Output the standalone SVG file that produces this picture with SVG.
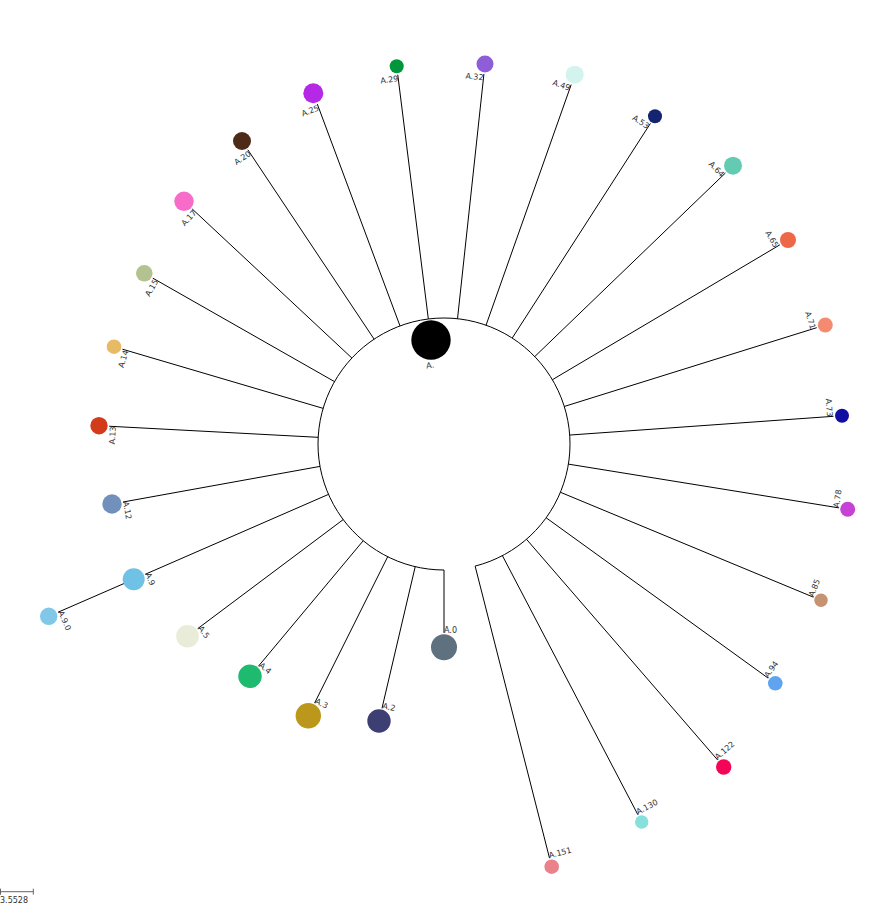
<svg xmlns="http://www.w3.org/2000/svg" width="888" height="921" viewBox="0 0 888 921">
<style>
  .link { stroke: #000; stroke-width: 1; fill: none; }
  .lbl { font-family: "DejaVu Sans", sans-serif; font-size: 8px; fill: #333; }
  .out { text-anchor: end; }
  .in { text-anchor: start; }
</style>
<rect width="888" height="921" fill="#fff"/>
<g id="connectors">
  <path class="link" d="M444,570 A126,126 0 1 1 475.11,566.1"/>
  <line class="link" x1="428.34" y1="318.98" x2="397.76" y2="74.73"/>
  <line class="link" x1="457.52" y1="318.73" x2="483.93" y2="73.94"/>
  <line class="link" x1="486.04" y1="325.22" x2="571.2" y2="84.6"/>
  <line class="link" x1="512.22" y1="338.06" x2="650.4" y2="123.45"/>
  <line class="link" x1="534.76" y1="356.59" x2="725.44" y2="172.98"/>
  <line class="link" x1="552.37" y1="379.73" x2="779.83" y2="244.85"/>
  <line class="link" x1="564.28" y1="406.46" x2="816.71" y2="327.68"/>
  <line class="link" x1="569.68" y1="435.06" x2="833.52" y2="416.3"/>
  <line class="link" x1="568.39" y1="464.12" x2="838.82" y2="507.86"/>
  <line class="link" x1="560.4" y1="492.26" x2="813.42" y2="597.16"/>
  <line class="link" x1="546.14" y1="517.77" x2="768.17" y2="678.15"/>
  <line class="link" x1="526.48" y1="539.26" x2="717.68" y2="760.04"/>
  <line class="link" x1="502.4" y1="555.65" x2="637.9" y2="814.73"/>
  <line class="link" x1="475.11" y1="566.1" x2="549.53" y2="858.17"/>
  <line class="link" x1="444" y1="570" x2="444" y2="632.8"/>
  <line class="link" x1="415.21" y1="566.67" x2="382.02" y2="708.15"/>
  <line class="link" x1="387.7" y1="556.72" x2="314.64" y2="703.0"/>
  <line class="link" x1="363.23" y1="540.71" x2="258.46" y2="666.17"/>
  <line class="link" x1="343.19" y1="519.59" x2="197.74" y2="628.62"/>
  <line class="link" x1="328.5" y1="494.36" x2="145.16" y2="574.3"/>
  <line class="link" x1="133.7" y1="579.3" x2="58.05" y2="612.22"/>
  <line class="link" x1="320.0" y1="466.4" x2="123.02" y2="502.01"/>
  <line class="link" x1="318.18" y1="437.32" x2="109.19" y2="426.24"/>
  <line class="link" x1="323.14" y1="408.37" x2="122.44" y2="349.19"/>
  <line class="link" x1="334.52" y1="381.64" x2="152.82" y2="278.15"/>
  <line class="link" x1="351.89" y1="358.02" x2="192.19" y2="208.94"/>
  <line class="link" x1="374.11" y1="339.16" x2="247.82" y2="149.74"/>
  <line class="link" x1="400.0" y1="325.93" x2="317.32" y2="104.08"/>
</g>
<g id="node-A"><circle cx="431" cy="340" r="19.7" fill="#000"/><text class="lbl out" dy="6.5" transform="translate(433.6,361.0) rotate(-7.1)">A.</text></g>
<g id="node-A29"><circle cx="396.7" cy="66.3" r="7" fill="#00963a"/><text class="lbl out" dy="6.5" transform="translate(397.8,74.7) rotate(-7.1)">A.29</text></g>
<g id="node-A32"><circle cx="485" cy="64" r="8.5" fill="#8e5ed8"/><text class="lbl out" dy="6.5" transform="translate(483.9,73.9) rotate(6.2)">A.32</text></g>
<g id="node-A49"><circle cx="574.7" cy="74.7" r="9" fill="#d2f3ee"/><text class="lbl out" dy="6.5" transform="translate(571.2,84.6) rotate(19.5)">A.49</text></g>
<g id="node-A53"><circle cx="655" cy="116.3" r="7" fill="#142470"/><text class="lbl out" dy="6.5" transform="translate(650.4,123.5) rotate(32.8)">A.53</text></g>
<g id="node-A64"><circle cx="733" cy="165.7" r="9" fill="#63cbb1"/><text class="lbl out" dy="6.5" transform="translate(725.4,173.0) rotate(46.1)">A.64</text></g>
<g id="node-A65"><circle cx="788" cy="240" r="8" fill="#ee6848"/><text class="lbl out" dy="6.5" transform="translate(779.8,244.9) rotate(59.3)">A.65</text></g>
<g id="node-A71"><circle cx="825.3" cy="325" r="7.5" fill="#f48a6f"/><text class="lbl out" dy="6.5" transform="translate(816.7,327.7) rotate(72.7)">A.71</text></g>
<g id="node-A73"><circle cx="842" cy="415.7" r="7" fill="#110fa3"/><text class="lbl out" dy="6.5" transform="translate(833.5,416.3) rotate(85.9)">A.73</text></g>
<g id="node-A78"><circle cx="847.7" cy="509.3" r="7.5" fill="#c642d4"/><text class="lbl in" transform="translate(838.8,507.9) rotate(-80.8)">A.78</text></g>
<g id="node-A85"><circle cx="821" cy="600.3" r="6.7" fill="#c69372"/><text class="lbl in" transform="translate(813.4,597.2) rotate(-67.5)">A.85</text></g>
<g id="node-A94"><circle cx="775.3" cy="683.3" r="7.3" fill="#60a4f0"/><text class="lbl in" transform="translate(768.2,678.2) rotate(-54.2)">A.94</text></g>
<g id="node-A122"><circle cx="723.7" cy="767" r="7.7" fill="#f30658"/><text class="lbl in" transform="translate(717.7,760.0) rotate(-40.9)">A.122</text></g>
<g id="node-A130"><circle cx="641.7" cy="822" r="6.7" fill="#86e0db"/><text class="lbl in" transform="translate(637.9,814.7) rotate(-27.6)">A.130</text></g>
<g id="node-A151"><circle cx="551.7" cy="866.7" r="7.3" fill="#e9828b"/><text class="lbl in" transform="translate(549.5,858.2) rotate(-14.3)">A.151</text></g>
<g id="node-A0"><circle cx="444" cy="647.3" r="13" fill="#5f717f"/><text class="lbl in" transform="translate(444,632.8)">A.0</text></g>
<g id="node-A2"><circle cx="379" cy="721" r="11.7" fill="#3d3f72"/><text class="lbl in" transform="translate(382.0,708.2) rotate(13.2)">A.2</text></g>
<g id="node-A3"><circle cx="308.3" cy="715.7" r="12.7" fill="#bb971c"/><text class="lbl in" transform="translate(314.6,703.0) rotate(26.6)">A.3</text></g>
<g id="node-A4"><circle cx="250" cy="676.3" r="11.7" fill="#1eba70"/><text class="lbl in" transform="translate(258.5,666.2) rotate(39.9)">A.4</text></g>
<g id="node-A5"><circle cx="187.5" cy="636.3" r="11.3" fill="#e9ecd9"/><text class="lbl in" transform="translate(197.7,628.6) rotate(53.1)">A.5</text></g>
<g id="node-A9"><circle cx="133.7" cy="579.3" r="11" fill="#70c1e6"/><text class="lbl in" transform="translate(145.2,574.3) rotate(66.4)">A.9</text></g>
<g id="node-A90"><circle cx="48.7" cy="616.3" r="8.7" fill="#80c7e8"/><text class="lbl in" transform="translate(58.1,612.2) rotate(66.4)">A.9.0</text></g>
<g id="node-A12"><circle cx="112" cy="504" r="9.7" fill="#7190bc"/><text class="lbl in" transform="translate(123.0,502.0) rotate(79.8)">A.12</text></g>
<g id="node-A13"><circle cx="99" cy="425.7" r="8.7" fill="#d23c1a"/><text class="lbl out" dy="6.5" transform="translate(109.2,426.2) rotate(-87.0)">A.13</text></g>
<g id="node-A14"><circle cx="114" cy="346.7" r="7.3" fill="#e7bb65"/><text class="lbl out" dy="6.5" transform="translate(122.4,349.2) rotate(-73.6)">A.14</text></g>
<g id="node-A15"><circle cx="144.3" cy="273.3" r="8.3" fill="#b4c291"/><text class="lbl out" dy="6.5" transform="translate(152.8,278.2) rotate(-60.3)">A.15</text></g>
<g id="node-A17"><circle cx="184" cy="201.3" r="9.7" fill="#f76cc8"/><text class="lbl out" dy="6.5" transform="translate(192.2,208.9) rotate(-47.0)">A.17</text></g>
<g id="node-A20"><circle cx="242" cy="141" r="9" fill="#4e2b18"/><text class="lbl out" dy="6.5" transform="translate(247.8,149.7) rotate(-33.7)">A.20</text></g>
<g id="node-A25"><circle cx="313.3" cy="93.3" r="10" fill="#b428e6"/><text class="lbl out" dy="6.5" transform="translate(317.3,104.1) rotate(-20.4)">A.25</text></g>
<g id="scale">
  <path d="M0.5,888.7 V894.7 M0.5,891.7 H33.3 M33.3,888.7 V894.7" stroke="#666" stroke-width="1" fill="none"/>
  <text class="lbl" x="0" y="902.7">3.5528</text>
</g>
</svg>
